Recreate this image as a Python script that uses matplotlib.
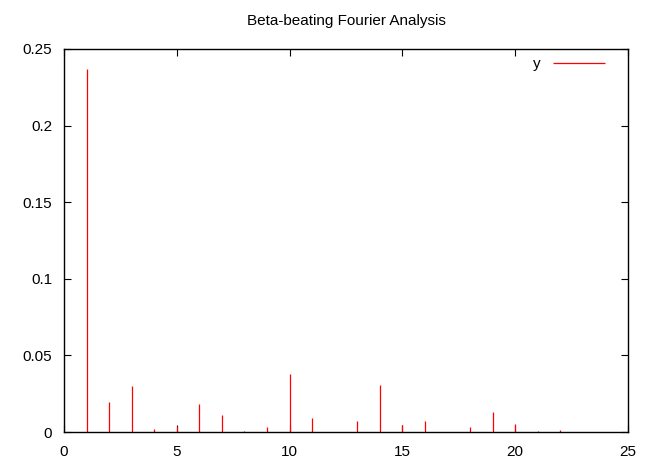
import matplotlib
matplotlib.use("Agg")
import matplotlib.pyplot as plt

plt.rcParams['font.family'] = ['Liberation Sans', 'DejaVu Sans']

harmonics = [1, 2, 3, 4, 5, 6, 7, 8, 9, 10, 11, 12, 13, 14, 15, 16, 17, 18, 19, 20, 21, 22]
amplitudes = [0.237, 0.0194, 0.030, 0.002, 0.0037, 0.0183, 0.011, 0.0009, 0.0035, 0.0378,
              0.009, 0.0, 0.0072, 0.031, 0.0046, 0.007, 0.0, 0.003, 0.0129, 0.0054, 0.0007, 0.001]
xticks = [0, 5, 10, 15, 20, 25]
yticks = [0, 0.05, 0.1, 0.15, 0.2, 0.25]
yticklabels = ["0", "0.05", "0.1", "0.15", "0.2", "0.25"]

fs = 11
fig = plt.figure(figsize=(6.45, 4.66), dpi=100)
ax = fig.add_axes([64/645, 1 - 432/466, (628-64)/645, (432-49)/466])
ax.vlines(harmonics, 0, amplitudes, color='red', lw=0.9, label='y')
ax.set_xlim(0, 25)
ax.set_ylim(0, 0.25)
ax.set_xticks(xticks)
ax.set_xticklabels([str(t) for t in xticks])
ax.set_yticks(yticks)
ax.set_yticklabels(yticklabels)
ax.tick_params(direction='in', top=True, right=True, length=5, width=0.8, labelsize=fs)
ax.tick_params(axis='x', pad=9)
ax.tick_params(axis='y', pad=8.5)
for s in ax.spines.values():
    s.set_linewidth(1.0)
ax.set_title("Beta-beating Fourier Analysis", fontsize=fs, pad=17)
leg = ax.legend(loc='upper right', frameon=False, markerfirst=False, fontsize=fs,
                handlelength=3.4, borderpad=0, borderaxespad=0,
                bbox_to_anchor=(0.959, 0.979))
for h in leg.get_lines():
    h.set_linewidth(0.9)
fig.savefig("out.png", dpi=100)
